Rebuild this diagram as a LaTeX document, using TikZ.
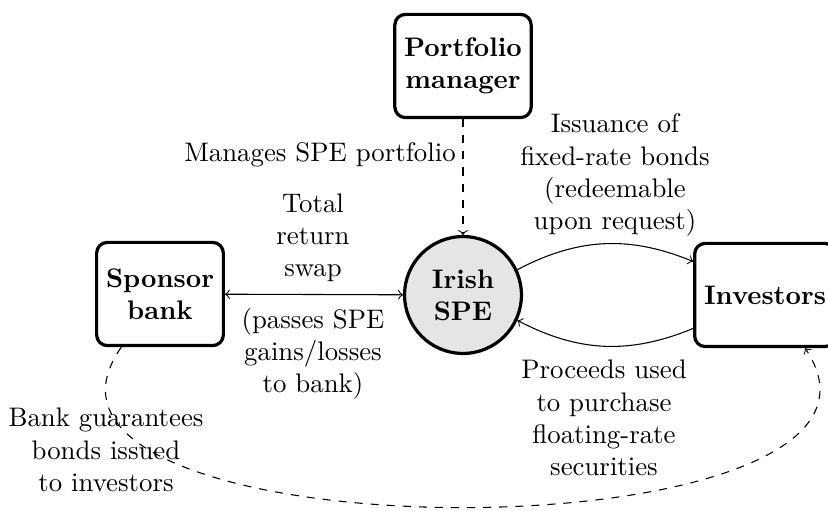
\documentclass[tikz,border=0pt]{standalone}
\begin{document}
\begin{tikzpicture}[x=0.373pt,y=0.373pt,
  box/.style={draw, line width=1.2pt, rounded corners=4pt, align=center,
    font=\bfseries, inner xsep=3.5pt, inner ysep=4pt, minimum height=38.5pt},
  hub/.style={circle, draw, line width=1.2pt, fill=black!10, align=center,
    font=\bfseries, minimum size=43.6pt, inner sep=1pt},
  note/.style={align=center},
  flow/.style={->}]
\useasboundingbox (0,0) rectangle (828,511);

% participants
\node[box] (pm) at (463,445) {Portfolio\\manager};
\node[hub] (spe) at (463,216) {Irish\\SPE};
\node[box] (sponsor) at (160,217) {Sponsor\\bank};
\node[box] (inv) at (765,216) {Investors};

% flows between them
\draw[flow, dashed] (pm) -- (spe);
\draw[<->] (sponsor) -- (spe);
\draw[flow] (spe) to[bend left=25] (inv);
\draw[flow] (inv) to[bend left=25] (spe);
\draw[flow, dashed] (sponsor.234) .. controls +(-151,-213) and +(143,-213) .. (inv.307);

% descriptions
\node[note] (manage) at (320,356) {Manages SPE portfolio};
\node[note] (issue) at (615,336) {Issuance of\\fixed-rate bonds\\(redeemable\\upon request)};
\node[note] (swap) at (313,273) {Total\\return\\swap};
\node[note] (passes) at (313,157) {(passes SPE\\gains/losses\\to bank)};
\node[note] (proceeds) at (604,93) {Proceeds used\\to purchase\\floating-rate\\securities};
\node[note] (guarantee) at (106,61) {Bank guarantees\\bonds issued\\to investors};
\end{tikzpicture}
\end{document}
